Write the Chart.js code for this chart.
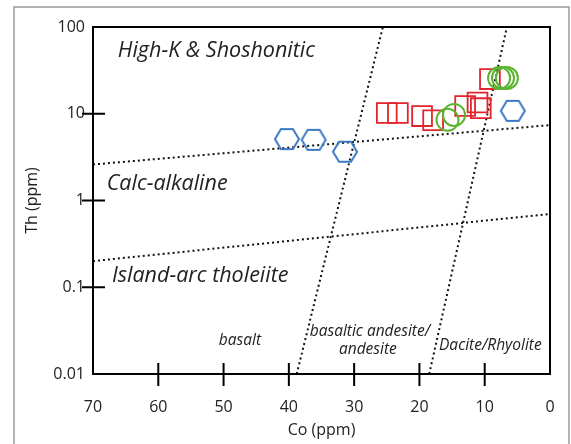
<!DOCTYPE html>
<html>
<head>
<meta charset="utf-8">
<script src="https://cdn.jsdelivr.net/npm/chart.js"></script>
<style>
  html, body { margin: 0; padding: 0; background: #fff; }
</style>
</head>
<body>
<canvas id="thCoChart" width="571" height="444"></canvas>
<script>
const xTicks = [70, 60, 50, 40, 30, 20, 10, 0];
const yTicks = [0.01, 0.1, 1, 10, 100];
const yTickLabels = ['0.01', '0.1', '1', '10', '100'];

// samples (Co ppm, Th ppm)
const hexCo = [40.3, 36.2, 31.4, 5.7];
const hexTh = [5.1, 5.0, 3.65, 10.8];
const squareCo = [25.0, 23.3, 19.6, 17.9, 13.0, 11.1, 10.6, 9.2];
const squareTh = [10.2, 10.2, 9.4, 8.4, 12.3, 13.5, 11.6, 25.1];
const circleCo = [15.7, 14.7, 7.8, 7.2, 6.6];
const circleTh = [8.5, 9.7, 25.8, 25.8, 25.8];

// field boundaries, end points
const upperLineCo = [70, 0];
const upperLineTh = [2.6, 7.4];
const lowerLineCo = [70, 0];
const lowerLineTh = [0.2, 0.7];
const basaltLineCo = [38.8, 25.6];
const basaltLineTh = [0.01, 100];
const daciteLineCo = [18.5, 6.6];
const daciteLineTh = [0.01, 100];

const FONT = '"Open Sans", "Noto Sans", sans-serif';
const INK = '#222';

function pts(xs, ys) {
    return xs.map((x, i) => ({ x: x, y: ys[i] }));
}

// hexagon marker
function makeHex(color) {
    const c = document.createElement('canvas');
    c.width = 28; c.height = 24;
    const g = c.getContext('2d');
    g.strokeStyle = color;
    g.lineWidth = 2;
    g.beginPath();
    g.moveTo(2, 12); g.lineTo(8, 2); g.lineTo(20, 2);
    g.lineTo(26, 12); g.lineTo(20, 22); g.lineTo(8, 22);
    g.closePath();
    g.stroke();
    return c;
}

function boundary(xs, ys) {
    return {
        type: 'line',
        data: pts(xs, ys),
        showLine: true,
        pointRadius: 0,
        borderColor: '#111',
        borderWidth: 2,
        borderDash: [2, 3],
        fill: false
    };
}

const framePlugin = {
    id: 'frame',
    beforeDraw(chart) {
        const ctx = chart.ctx;
        ctx.save();
        ctx.strokeStyle = '#9a9a9a';
        ctx.lineWidth = 1.5;
        ctx.strokeRect(14, 7, 555, 460);
        ctx.restore();
    },
    afterDatasetsDraw(chart) {
        const { ctx, chartArea: a, scales } = chart;
        ctx.save();
        ctx.strokeStyle = '#000';
        ctx.lineWidth = 2;
        ctx.strokeRect(a.left, a.top, a.right - a.left, a.bottom - a.top);
        ctx.beginPath();
        // cross ticks on x axis
        xTicks.slice(1, -1).forEach(v => {
            const px = scales.x.getPixelForValue(v);
            ctx.moveTo(px, a.bottom - 11);
            ctx.lineTo(px, a.bottom + 12);
        });
        // cross ticks on y axis
        yTicks.slice(1, -1).forEach(v => {
            const py = scales.y.getPixelForValue(v);
            ctx.moveTo(a.left - 11, py);
            ctx.lineTo(a.left + 12, py);
        });
        ctx.stroke();

        // field names
        const sx = v => scales.x.getPixelForValue(v);
        const sy = v => scales.y.getPixelForValue(v);
        ctx.fillStyle = INK;
        ctx.textBaseline = 'alphabetic';
        ctx.font = 'italic 21.5px ' + FONT;
        ctx.textAlign = 'left';
        ctx.fillText('High-K & Shoshonitic', sx(66.2), sy(45));
        ctx.fillText('Calc-alkaline', sx(67.9), sy(1.32));
        ctx.fillText('Island-arc tholeiite', sx(67.1), sy(0.116));
        ctx.font = 'italic 15.5px ' + FONT;
        ctx.textAlign = 'center';
        ctx.fillText('basalt', sx(47.5), sy(0.0216));
        ctx.fillText('andesite', sx(27.9), sy(0.017));
        ctx.textAlign = 'left';
        ctx.fillText('basaltic andesite/', sx(36.8), sy(0.0274));
        ctx.fillText('Dacite/Rhyolite', sx(17.0), sy(0.0189));
        ctx.restore();
    }
};

function createChart() {
    const ctx = document.getElementById('thCoChart').getContext('2d');
    new Chart(ctx, {
        type: 'scatter',
        data: {
            datasets: [
                {
                    data: pts(circleCo, circleTh),
                    pointStyle: 'circle',
                    pointRadius: 11,
                    borderColor: '#5bb431',
                    backgroundColor: 'rgba(0,0,0,0)',
                    borderWidth: 2
                },
                {
                    data: pts(squareCo, squareTh),
                    pointStyle: 'rect',
                    pointRadius: 14,
                    borderColor: '#e2252d',
                    backgroundColor: 'rgba(0,0,0,0)',
                    borderWidth: 1.8
                },
                {
                    data: pts(hexCo, hexTh),
                    pointStyle: makeHex('#3b78c3'),
                    pointRadius: 12
                },
                boundary(upperLineCo, upperLineTh),
                boundary(lowerLineCo, lowerLineTh),
                boundary(basaltLineCo, basaltLineTh),
                boundary(daciteLineCo, daciteLineTh)
            ]
        },
        options: {
            responsive: false,
            animation: false,
            devicePixelRatio: 1,
            layout: { padding: { top: 27, right: 21, left: 0, bottom: 0 } },
            plugins: {
                legend: { display: false },
                tooltip: { enabled: false }
            },
            scales: {
                x: {
                    type: 'linear',
                    reverse: true,
                    min: 0,
                    max: 70,
                    afterBuildTicks: s => { s.ticks = xTicks.map(v => ({ value: v })); },
                    afterFit: s => { s.height = 70; s.paddingLeft = 0; s.paddingRight = 0; },
                    grid: { display: false, drawTicks: false },
                    border: { display: false },
                    ticks: {
                        padding: 24,
                        color: INK,
                        font: { size: 16, family: FONT },
                        maxRotation: 0
                    },
                    title: {
                        display: true,
                        text: 'Co (ppm)',
                        color: INK,
                        font: { size: 16, family: FONT },
                        padding: { top: 0, bottom: 4 }
                    }
                },
                y: {
                    type: 'logarithmic',
                    min: 0.01,
                    max: 100,
                    afterBuildTicks: s => { s.ticks = yTicks.map(v => ({ value: v })); },
                    afterFit: s => { s.width = 93; s.paddingTop = 0; s.paddingBottom = 0; },
                    grid: { display: false, drawTicks: false },
                    border: { display: false },
                    ticks: {
                        padding: 8,
                        color: INK,
                        font: { size: 16, family: FONT },
                        callback: (v) => {
                            const i = yTicks.indexOf(v);
                            return i >= 0 ? yTickLabels[i] : '';
                        }
                    },
                    title: {
                        display: true,
                        text: 'Th (ppm)',
                        color: INK,
                        font: { size: 16, family: FONT },
                        padding: { top: 23, bottom: 0 }
                    }
                }
            }
        },
        plugins: [framePlugin]
    });
}

window.onload = createChart;
</script>
</body>
</html>
